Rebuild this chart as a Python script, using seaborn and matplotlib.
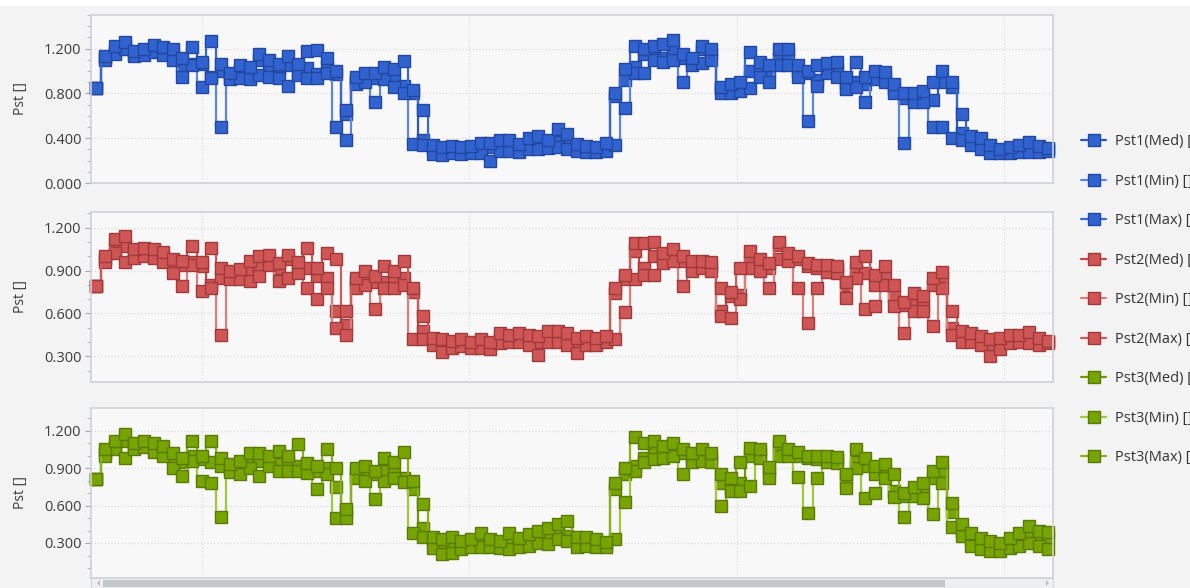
import numpy as np
import matplotlib.pyplot as plt
import seaborn as sns
from matplotlib.patches import Rectangle, Polygon
from matplotlib.ticker import MultipleLocator, FormatStrFormatter

sns.set_style("ticks")
plt.rcParams['font.family'] = ['Open Sans', 'DejaVu Sans']

# amostras (indice de tempo)
idx = np.arange(100)

# Pst1
pst1_med = [0.85, 1.12, 1.17, 1.22, 1.15, 1.18, 1.20, 1.17, 1.14, 1.05,
            1.06, 1.06, 0.95, 1.00, 0.94, 1.00, 0.94, 1.10, 1.04, 1.02,
            1.05, 1.00, 1.03, 0.97, 1.04, 0.97, 0.62, 0.92, 0.95, 0.94,
            0.95, 0.92, 0.87, 0.80, 0.38, 0.30, 0.28, 0.30, 0.28, 0.31,
            0.30, 0.32, 0.33, 0.33, 0.31, 0.34, 0.37, 0.33, 0.37, 0.34,
            0.31, 0.30, 0.30, 0.32, 0.78, 0.92, 1.04, 1.15, 1.18, 1.12,
            1.20, 1.12, 1.08, 1.20, 1.15, 0.84, 0.83, 0.85, 1.00, 1.03,
            1.00, 1.12, 1.15, 1.00, 0.98, 0.92, 1.02, 1.00, 0.86, 0.90,
            0.88, 0.97, 0.95, 0.84, 0.76, 0.75, 0.77, 0.74, 0.90, 0.86,
            0.45, 0.38, 0.35, 0.30, 0.28, 0.29, 0.31, 0.32, 0.30, 0.30]
pst1_min = [0.85, 1.10, 1.15, 1.20, 1.13, 1.14, 1.17, 1.14, 1.10, 0.95,
            1.05, 0.86, 0.94, 0.50, 0.93, 0.94, 0.93, 0.96, 0.95, 0.94,
            0.87, 0.96, 0.94, 0.94, 0.98, 0.50, 0.38, 0.88, 0.90, 0.72,
            0.93, 0.86, 0.80, 0.35, 0.34, 0.26, 0.25, 0.27, 0.26, 0.27,
            0.27, 0.20, 0.29, 0.29, 0.28, 0.30, 0.30, 0.31, 0.32, 0.30,
            0.29, 0.28, 0.28, 0.29, 0.34, 0.67, 0.98, 0.98, 1.10, 1.08,
            1.10, 0.90, 1.05, 1.07, 1.10, 0.80, 0.80, 0.82, 0.85, 0.95,
            0.90, 1.05, 1.05, 0.95, 0.55, 0.87, 0.98, 0.95, 0.84, 0.86,
            0.72, 0.93, 0.90, 0.80, 0.36, 0.72, 0.72, 0.50, 0.50, 0.40,
            0.38, 0.34, 0.30, 0.27, 0.27, 0.27, 0.28, 0.28, 0.28, 0.29]
pst1_max = [0.85, 1.13, 1.22, 1.26, 1.18, 1.20, 1.23, 1.21, 1.20, 1.12,
            1.21, 1.08, 1.27, 1.06, 0.98, 1.05, 1.04, 1.15, 1.10, 1.06,
            1.13, 1.06, 1.18, 1.19, 1.12, 1.00, 0.65, 0.95, 0.98, 0.98,
            1.04, 1.02, 1.09, 0.83, 0.65, 0.34, 0.32, 0.33, 0.32, 0.33,
            0.36, 0.36, 0.38, 0.38, 0.35, 0.40, 0.42, 0.38, 0.48, 0.44,
            0.35, 0.33, 0.32, 0.36, 0.80, 1.02, 1.22, 1.20, 1.22, 1.24,
            1.28, 1.15, 1.12, 1.22, 1.20, 0.86, 0.88, 0.90, 1.17, 1.08,
            1.05, 1.20, 1.20, 1.05, 1.00, 1.05, 1.07, 1.08, 0.95, 1.08,
            0.95, 1.00, 0.99, 0.88, 0.80, 0.80, 0.82, 0.90, 1.00, 0.90,
            0.62, 0.42, 0.40, 0.34, 0.30, 0.32, 0.34, 0.37, 0.33, 0.31]

# Pst2
pst2_med = [0.79, 0.98, 1.05, 1.07, 1.02, 1.04, 1.02, 1.00, 0.95, 0.94,
            0.96, 0.93, 0.80, 0.85, 0.86, 0.87, 0.90, 0.93, 0.98, 0.92,
            0.98, 0.93, 0.92, 0.86, 0.85, 0.62, 0.52, 0.82, 0.85, 0.82,
            0.82, 0.82, 0.85, 0.75, 0.48, 0.41, 0.40, 0.38, 0.40, 0.38,
            0.39, 0.38, 0.43, 0.42, 0.43, 0.41, 0.40, 0.44, 0.43, 0.42,
            0.40, 0.41, 0.41, 0.42, 0.74, 0.84, 1.04, 0.92, 1.00, 0.98,
            1.02, 0.97, 0.93, 0.95, 0.93, 0.62, 0.72, 0.73, 0.96, 0.95,
            0.92, 1.08, 0.99, 0.98, 0.93, 0.92, 0.92, 0.91, 0.80, 0.90,
            0.88, 0.80, 0.85, 0.72, 0.66, 0.68, 0.66, 0.80, 0.85, 0.50,
            0.45, 0.42, 0.41, 0.38, 0.40, 0.42, 0.43, 0.42, 0.40, 0.40]
pst2_min = [0.79, 0.96, 1.02, 0.96, 0.99, 1.00, 0.99, 0.96, 0.88, 0.79,
            0.94, 0.76, 0.78, 0.45, 0.84, 0.84, 0.83, 0.86, 0.94, 0.83,
            0.85, 0.88, 0.78, 0.70, 0.78, 0.50, 0.45, 0.78, 0.80, 0.63,
            0.78, 0.78, 0.80, 0.42, 0.42, 0.38, 0.33, 0.36, 0.37, 0.36,
            0.36, 0.35, 0.39, 0.40, 0.40, 0.38, 0.31, 0.40, 0.40, 0.38,
            0.32, 0.38, 0.38, 0.40, 0.42, 0.61, 0.84, 0.87, 0.87, 0.95,
            0.97, 0.79, 0.90, 0.92, 0.90, 0.58, 0.57, 0.70, 0.92, 0.90,
            0.78, 0.98, 0.97, 0.78, 0.53, 0.78, 0.89, 0.88, 0.71, 0.85,
            0.63, 0.65, 0.80, 0.65, 0.46, 0.62, 0.62, 0.51, 0.78, 0.45,
            0.40, 0.40, 0.38, 0.30, 0.35, 0.39, 0.40, 0.39, 0.38, 0.39]
pst2_max = [0.79, 1.00, 1.12, 1.14, 1.05, 1.06, 1.05, 1.03, 0.98, 0.97,
            1.07, 0.96, 1.06, 0.92, 0.90, 0.91, 0.97, 1.00, 1.01, 0.95,
            1.01, 0.96, 1.06, 0.92, 1.02, 0.98, 0.62, 0.85, 0.90, 0.86,
            0.93, 0.90, 0.97, 0.78, 0.58, 0.43, 0.42, 0.41, 0.42, 0.40,
            0.42, 0.40, 0.46, 0.45, 0.46, 0.45, 0.44, 0.48, 0.48, 0.46,
            0.43, 0.44, 0.43, 0.44, 0.78, 0.87, 1.09, 1.09, 1.10, 1.02,
            1.05, 1.00, 0.97, 0.97, 0.96, 0.78, 0.75, 0.92, 1.04, 0.98,
            0.95, 1.10, 1.02, 1.00, 0.95, 0.94, 0.94, 0.93, 0.82, 0.96,
            1.00, 0.87, 0.93, 0.80, 0.68, 0.74, 0.72, 0.85, 0.89, 0.62,
            0.48, 0.46, 0.44, 0.42, 0.43, 0.45, 0.45, 0.47, 0.43, 0.41]

# Pst3
pst3_med = [0.81, 1.02, 1.08, 1.12, 1.08, 1.10, 1.07, 1.04, 0.98, 0.95,
            1.00, 0.97, 0.95, 0.92, 0.90, 0.92, 0.95, 0.96, 0.97, 0.93,
            0.96, 0.92, 0.90, 0.88, 0.90, 0.75, 0.55, 0.88, 0.88, 0.85,
            0.88, 0.85, 0.82, 0.73, 0.42, 0.32, 0.28, 0.30, 0.29, 0.30,
            0.31, 0.30, 0.29, 0.31, 0.30, 0.33, 0.36, 0.34, 0.38, 0.36,
            0.31, 0.31, 0.30, 0.29, 0.73, 0.85, 0.92, 0.98, 1.05, 1.02,
            1.05, 1.02, 0.98, 1.00, 0.98, 0.78, 0.74, 0.78, 1.00, 1.02,
            0.88, 1.08, 1.03, 1.00, 0.98, 0.97, 0.98, 0.97, 0.82, 0.95,
            0.92, 0.85, 0.88, 0.72, 0.68, 0.72, 0.70, 0.82, 0.88, 0.55,
            0.40, 0.33, 0.30, 0.28, 0.27, 0.30, 0.33, 0.36, 0.33, 0.35]
pst3_min = [0.81, 1.00, 1.05, 0.98, 1.05, 1.07, 1.03, 1.00, 0.90, 0.84,
            0.96, 0.80, 0.78, 0.51, 0.87, 0.85, 0.90, 0.84, 0.92, 0.88,
            0.88, 0.88, 0.86, 0.73, 0.85, 0.50, 0.50, 0.82, 0.80, 0.65,
            0.80, 0.82, 0.79, 0.38, 0.35, 0.26, 0.21, 0.22, 0.25, 0.27,
            0.27, 0.27, 0.26, 0.25, 0.27, 0.28, 0.30, 0.29, 0.33, 0.32,
            0.27, 0.28, 0.27, 0.27, 0.33, 0.63, 0.88, 0.95, 0.97, 0.98,
            1.00, 0.85, 0.95, 0.96, 0.95, 0.60, 0.72, 0.72, 0.76, 0.98,
            0.82, 1.00, 1.00, 0.83, 0.54, 0.82, 0.95, 0.94, 0.74, 0.90,
            0.66, 0.70, 0.82, 0.67, 0.51, 0.68, 0.66, 0.53, 0.78, 0.43,
            0.36, 0.28, 0.25, 0.24, 0.24, 0.26, 0.28, 0.30, 0.28, 0.25]
pst3_max = [0.81, 1.05, 1.12, 1.17, 1.10, 1.12, 1.10, 1.08, 1.02, 0.98,
            1.12, 1.00, 1.12, 0.98, 0.93, 0.96, 1.02, 1.02, 1.00, 1.04,
            1.00, 1.09, 0.94, 0.92, 1.05, 0.90, 0.57, 0.90, 0.92, 0.88,
            0.98, 0.95, 1.03, 0.80, 0.61, 0.35, 0.33, 0.35, 0.32, 0.33,
            0.38, 0.33, 0.32, 0.38, 0.34, 0.37, 0.40, 0.42, 0.45, 0.48,
            0.35, 0.35, 0.33, 0.31, 0.78, 0.90, 1.15, 1.10, 1.12, 1.08,
            1.10, 1.05, 1.02, 1.05, 1.02, 0.85, 0.82, 0.95, 1.06, 1.05,
            0.91, 1.12, 1.05, 1.03, 1.00, 1.00, 1.00, 0.99, 0.85, 1.05,
            0.98, 0.92, 0.93, 0.85, 0.70, 0.75, 0.78, 0.88, 0.95, 0.62,
            0.45, 0.38, 0.34, 0.32, 0.30, 0.34, 0.38, 0.44, 0.40, 0.39]

panels = [
    ("Pst1", [pst1_med, pst1_min, pst1_max],
     ["#2a58c0", "#5d86dc", "#3a68d0"], "#3063cf", "#22479e",
     (0.0, 1.5), 0.4, 0.1),
    ("Pst2", [pst2_med, pst2_min, pst2_max],
     ["#c04848", "#d88080", "#cc5c5c"], "#d05656", "#9e3a3a",
     (0.12, 1.31), 0.3, 0.1),
    ("Pst3", [pst3_med, pst3_min, pst3_max],
     ["#6e9a00", "#a2c840", "#88b020"], "#78a400", "#587a00",
     (0.02, 1.38), 0.3, 0.1),
]
stats = ["Med", "Min", "Max"]

W, H = 1190, 588
fig = plt.figure(figsize=(W / 100, H / 100), dpi=100, facecolor="#f3f3f3")
rects = [(15, 183), (212, 382), (408, 578)]
grid_x = [11.04, 38.79, 66.65, 94.41]

handles, labels = [], []
for (name, series, lcols, face, edge, ylim, major, minor), (top, bot) in zip(panels, rects):
    ax = fig.add_axes([91 / W, 1 - bot / H, 962 / W, (bot - top) / H])
    ax.set_facecolor("#f8f8f8")
    for s, vals, lc in zip(stats, series, lcols):
        sns.lineplot(x=idx, y=vals, ax=ax, color=lc, linewidth=1.6,
                     drawstyle="steps-mid", marker="s", markersize=8.3,
                     markerfacecolor=face, markeredgecolor=edge,
                     markeredgewidth=1.0, clip_on=False, legend=False)
        handles.append(ax.lines[-1])
        labels.append(f"{name}({s}) []")
    ax.set_xlim(-0.5, 99.5)
    ax.set_ylim(*ylim)
    ax.yaxis.set_major_locator(MultipleLocator(major))
    ax.yaxis.set_minor_locator(MultipleLocator(minor))
    ax.yaxis.set_major_formatter(FormatStrFormatter("%.3f"))
    ax.set_xticks(grid_x)
    ax.set_xticklabels([])
    ax.tick_params(axis="x", length=0)
    ax.tick_params(axis="y", which="major", length=4, width=0.8, color="#a8a8a8",
                   labelsize=10.5, labelcolor="#3c3c3c", pad=3)
    ax.tick_params(axis="y", which="minor", length=3, width=0.8, color="#b8b8b8")
    ax.grid(True, axis="both", which="major", color="#dcdcdc", linestyle=":", linewidth=0.9)
    for sp in ax.spines.values():
        sp.set_color("#cfd2d6")
        sp.set_linewidth(1.2)
    ax.set_xlabel("")
    ax.set_ylabel("Pst []", fontsize=10, color="#3c3c3c")
    ax.yaxis.set_label_coords(-0.066, 0.5)

fig.legend(handles, labels, loc="upper left", bbox_to_anchor=(1068 / W, 1 - 121 / H),
           frameon=False, fontsize=10.5, labelspacing=1.68, handlelength=1.7,
           handletextpad=0.6, numpoints=1, labelcolor="#333333")

# faixa branca no topo
fig.add_artist(Rectangle((0, 1 - 6 / H), 1, 6 / H, transform=fig.transFigure,
                         facecolor="white", edgecolor="none"))
# barra de rolagem
fig.add_artist(Rectangle((91 / W, 0), 962 / W, 10 / H, transform=fig.transFigure,
                         facecolor="#eeeff0", edgecolor="#d4d6d8", linewidth=0.8))
fig.add_artist(Rectangle((103 / W, 1.5 / H), 842 / W, 6.5 / H, transform=fig.transFigure,
                         facecolor="#c4c8cd", edgecolor="none"))
fig.add_artist(Polygon([(97 / W, 5 / H), (100 / W, 8 / H), (100 / W, 2 / H)],
                       closed=True, transform=fig.transFigure, facecolor="#b8bbbf",
                       edgecolor="none"))
fig.add_artist(Polygon([(1049 / W, 5 / H), (1046 / W, 8 / H), (1046 / W, 2 / H)],
                       closed=True, transform=fig.transFigure, facecolor="#b8bbbf",
                       edgecolor="none"))

plt.savefig("out.png", dpi=100, facecolor=fig.get_facecolor())
